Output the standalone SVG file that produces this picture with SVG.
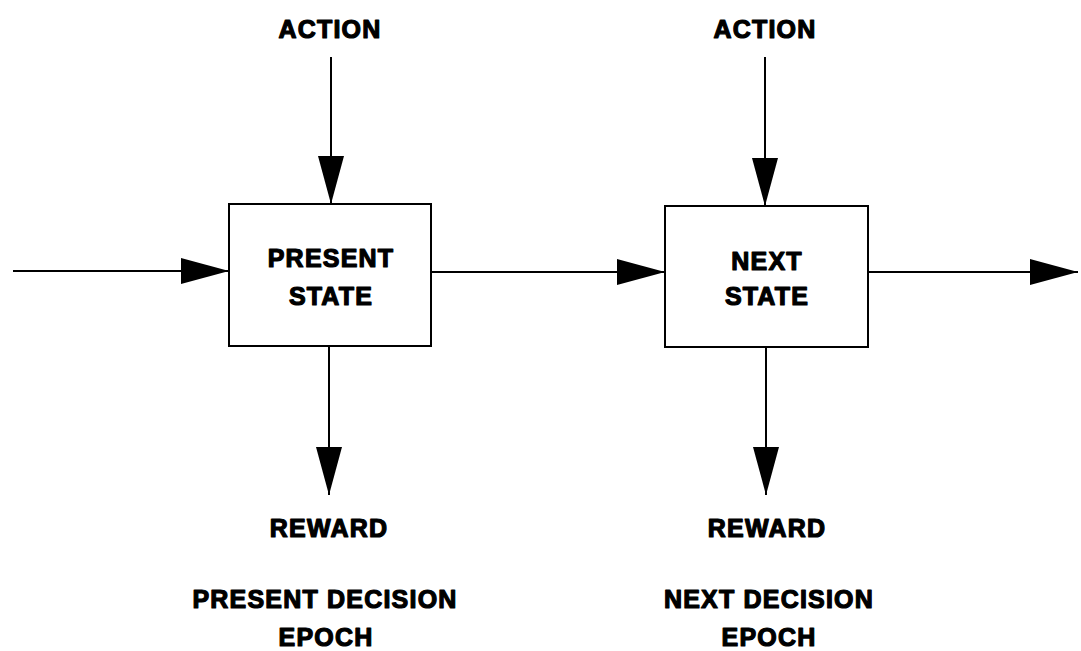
<svg xmlns="http://www.w3.org/2000/svg" width="1081" height="651" viewBox="0 0 1081 651">
  <defs>
    <style>
      .lbl { font-family: "Liberation Sans", Arial, sans-serif; font-weight: bold; font-size: 25px; fill: #000; stroke: #000; stroke-width: 1.2; stroke-linejoin: round; letter-spacing: 1.2px; text-anchor: middle; }
      .box { fill: #fff; stroke: #000; stroke-width: 2; }
      .conn { stroke: #000; stroke-width: 2; fill: none; marker-end: url(#arrow); }
    </style>
    <marker id="arrow" markerUnits="userSpaceOnUse" markerWidth="50" markerHeight="26" viewBox="0 0 48 26" refX="48" refY="13" orient="auto">
      <path d="M0,0 L48,13 L0,26 Z" fill="#000"/>
    </marker>
  </defs>
  <rect width="1081" height="651" fill="#fff"/>

  <g id="connectors">
    <line class="conn" x1="13" y1="271" x2="229" y2="271"/>
    <line class="conn" x1="431" y1="272" x2="665" y2="272"/>
    <line class="conn" x1="868" y1="272" x2="1078" y2="272"/>
    <line class="conn" x1="331" y1="57" x2="331" y2="204"/>
    <line class="conn" x1="765" y1="57" x2="765" y2="206"/>
    <line class="conn" x1="329" y1="346" x2="329" y2="495"/>
    <line class="conn" x1="766" y1="347" x2="766" y2="495"/>
  </g>

  <g id="present-state">
    <rect class="box" x="229" y="204" width="202" height="142"/>
    <text class="lbl" x="331" y="267">PRESENT</text>
    <text class="lbl" x="331" y="305">STATE</text>
  </g>
  <g id="next-state">
    <rect class="box" x="665" y="206" width="203" height="141"/>
    <text class="lbl" x="767" y="270">NEXT</text>
    <text class="lbl" x="767" y="305">STATE</text>
  </g>

  <g id="action-1"><text class="lbl" x="330" y="38">ACTION</text></g>
  <g id="action-2"><text class="lbl" x="765" y="38">ACTION</text></g>
  <g id="reward-1"><text class="lbl" x="329" y="537">REWARD</text></g>
  <g id="reward-2"><text class="lbl" x="767" y="537">REWARD</text></g>
  <g id="present-epoch">
    <text class="lbl" x="325" y="608">PRESENT DECISION</text>
    <text class="lbl" x="326" y="646">EPOCH</text>
  </g>
  <g id="next-epoch">
    <text class="lbl" x="769" y="608">NEXT DECISION</text>
    <text class="lbl" x="769" y="646">EPOCH</text>
  </g>
</svg>
